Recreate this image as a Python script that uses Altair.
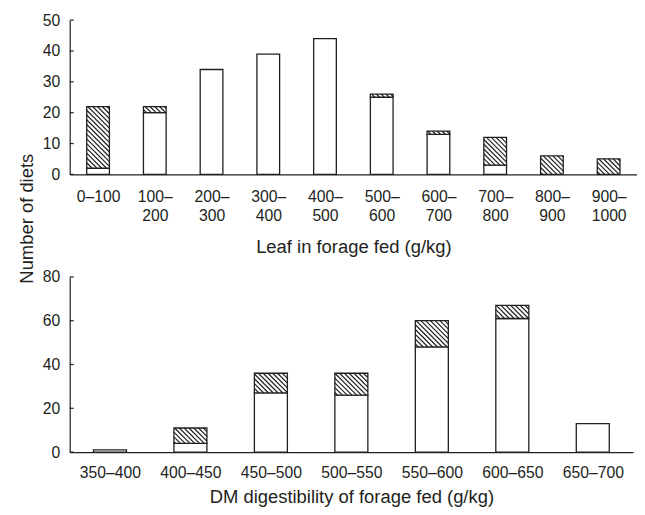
import json
import math
import altair as alt
import pandas as pd

# ---------------- data ----------------
leaf_labels = ["0–100", "100–\n200", "200–\n300", "300–\n400", "400–\n500",
               "500–\n600", "600–\n700", "700–\n800", "800–\n900", "900–\n1000"]
leaf_plain = [2, 20, 34, 39, 44, 25, 13, 3, 0, 0]
leaf_hatched = [20, 2, 0, 0, 0, 1, 1, 9, 6, 5]
leaf_ticks = [0, 10, 20, 30, 40, 50]

dm_labels = ["350–400", "400–450", "450–500", "500–550", "550–600", "600–650", "650–700"]
dm_plain = [1, 4, 27, 26, 48, 61, 13]
dm_hatched = [0, 7, 9, 10, 12, 6, 0]
dm_ticks = [0, 20, 40, 60, 80]

INK = "#231f20"
FONT = "Liberation Sans"
LABEL_SIZE = 15.8
TITLE_SIZE = 18.5


def segments(plain, hatched, half):
    rows = []
    for i, (p, h) in enumerate(zip(plain, hatched)):
        if p > 0:
            rows.append(dict(i=i, x0=i - half, x1=i + half, y0=0, y1=p, kind="plain"))
        if h > 0:
            rows.append(dict(i=i, x0=i - half, x1=i + half, y0=p, y1=p + h, kind="hatched"))
    return pd.DataFrame(rows)


def hatch_lines(seg, n, ymax, width, height, step=4.8):
    # diagonal "\" hatching, computed from the hatched segments through the pixel scale
    sx = width / n
    sy = height / ymax
    rows = []
    for _, r in seg[seg.kind == "hatched"].iterrows():
        xa, xb = (r.x0 + 0.5) * sx, (r.x1 + 0.5) * sx
        ua, ub = r.y0 * sy, r.y1 * sy
        k0 = math.ceil((xa + ua) / step)
        k1 = math.floor((xb + ub) / step)
        for k in range(k0, k1 + 1):
            c = k * step
            xl = max(xa, c - ub)
            xr = min(xb, c - ua)
            if xr - xl > 0.3:
                rows.append(dict(hx=xl / sx - 0.5, hy=(c - xl) / sy,
                                 hx2=xr / sx - 0.5, hy2=(c - xr) / sy))
    return pd.DataFrame(rows)


def panel(labels, plain, hatched, ticks, ymax, width, height, half,
          xtitle, lab_pad, title_y, ytitle=None):
    n = len(labels)
    seg = segments(plain, hatched, half)
    hat = hatch_lines(seg, n, ymax, width, height)
    label_expr = "split(" + json.dumps(labels, ensure_ascii=False) + "[datum.value], '\\n')"

    xscale = alt.Scale(domain=[-0.5, n - 0.5], nice=False, zero=False)
    yscale = alt.Scale(domain=[0, ymax], nice=False)

    xaxis = alt.Axis(values=list(range(n)), labelExpr=label_expr, ticks=False, tickSize=0,
                     grid=False, title=xtitle, labelPadding=lab_pad, labelLineHeight=20,
                     labelOverlap=False, labelFlush=False, titleY=title_y,
                     titleBaseline="alphabetic")
    yargs = dict(values=ticks, ticks=False, tickSize=0, grid=False, labelPadding=10,
                 labelOverlap=False, labelFlush=False)
    if ytitle:
        yargs.update(title=ytitle, titleX=-37, titleY=199, titleAngle=270,
                     titleBaseline="alphabetic", titleAlign="center")
    else:
        yargs.update(title=None)
    yaxis = alt.Axis(**yargs)

    bars = alt.Chart(seg).mark_rect(fill="white", stroke=INK, strokeWidth=1.3).encode(
        x=alt.X("x0:Q", scale=xscale, axis=xaxis),
        x2="x1:Q",
        y=alt.Y("y0:Q", scale=yscale, axis=yaxis),
        y2="y1:Q",
    )
    lines = alt.Chart(hat).mark_rule(stroke=INK, strokeWidth=1.2).encode(
        x=alt.X("hx:Q", scale=xscale, axis=xaxis),
        x2="hx2:Q",
        y=alt.Y("hy:Q", scale=yscale, axis=yaxis),
        y2="hy2:Q",
    )
    tick_df = pd.DataFrame({"t": ticks})
    tks = alt.Chart(tick_df).mark_rule(stroke=INK, strokeWidth=1.2).encode(
        y=alt.Y("t:Q", scale=yscale, axis=yaxis),
        x=alt.value(0),
        x2=alt.value(4),
    )
    return alt.layer(bars, lines, tks).properties(width=width, height=height)


top = panel(leaf_labels, leaf_plain, leaf_hatched, leaf_ticks, 50, 570, 155, 0.2,
            "Leaf in forage fed (g/kg)", 14.8, 78, ytitle="Number of diets")
bottom = panel(dm_labels, dm_plain, dm_hatched, dm_ticks, 80, 566, 176, 0.205,
               "DM digestibility of forage fed (g/kg)", 13.8, 51)

chart = alt.vconcat(top, bottom, spacing=103, bounds="flush").properties(
    padding={"left": 10, "top": 3, "right": 0, "bottom": 0},
    background="white",
).configure_view(stroke=None).configure_axis(
    domainColor=INK, domainWidth=1.2, labelColor=INK, titleColor=INK,
    labelFont=FONT, titleFont=FONT, labelFontSize=LABEL_SIZE, titleFontSize=TITLE_SIZE,
    titleFontWeight="normal",
)

chart.save("out.html", embed_options={"renderer": "svg", "actions": False})
